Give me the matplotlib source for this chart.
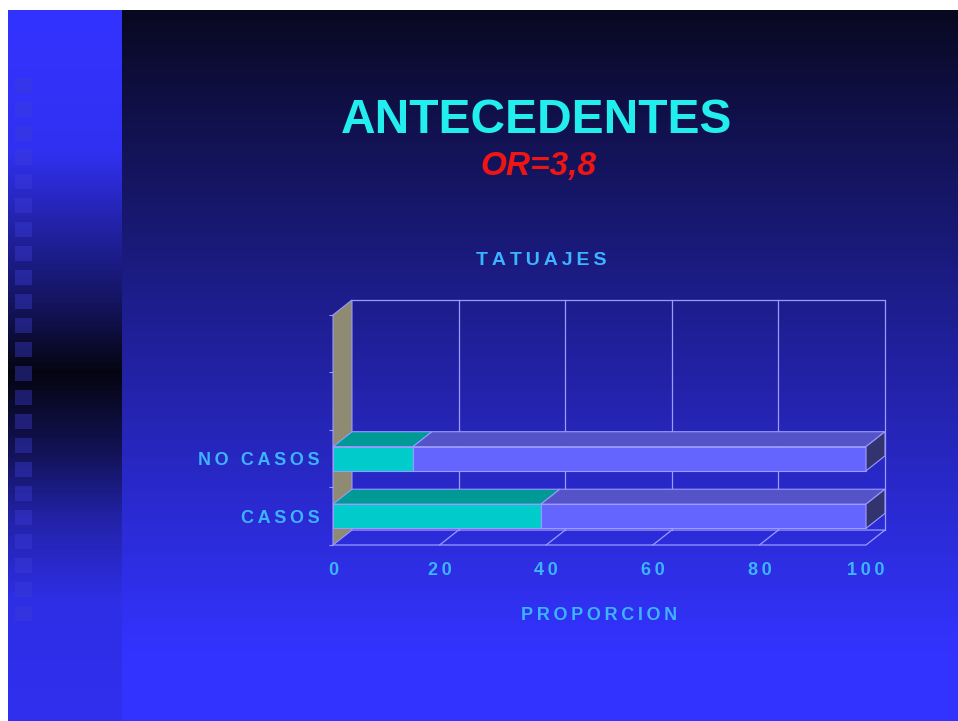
import numpy as np
import matplotlib
matplotlib.use('Agg')
from matplotlib import pyplot as plt
from matplotlib.patches import Polygon

# data
categories = ['CASOS', 'NO CASOS']
tatuados = [39, 15]
no_tatuados = [61, 85]
xticks = [0, 20, 40, 60, 80, 100]
n_slots = 4

plt.rcParams['font.family'] = ['Liberation Sans', 'DejaVu Sans']

W, H = 958, 721
DX, DY = 3.56, 0.26   # depth of the 3d box in data units
BH = 0.42             # bar thickness

def spaced(s):
    return '\u2009'.join(s)

def fx(px):
    return px / W

def fy(py):
    return 1 - py / H

# background slide
img = np.ones((H, W, 3))
yy = np.arange(H)[:, None]
dark = np.array([8, 8, 30]) / 255
blue = np.array([51, 51, 255]) / 255
t = np.clip((yy - 10) / 640.0, 0, 1) ** 0.9
main = dark + (blue - dark) * t[..., None]
img[10:, 122:] = main[10:, :, :].repeat(W - 122, axis=1)

ky = [10, 150, 230, 300, 372, 450, 520, 600, 721]
kf = [1.0, 0.95, 0.62, 0.35, 0.02, 0.3, 0.65, 0.9, 0.93]
f = np.interp(np.arange(H), ky, kf)
low = np.array([4, 4, 12]) / 255
strip = low + f[:, None] * (blue - low)
img[10:, 8:122] = strip[10:, None, :]
sq = np.array([60, 60, 215]) / 255
for k in range(23):
    y0 = int(78 + k * 24)
    img[y0:y0 + 15, 15:32] = strip[y0:y0 + 15, None, :] * 0.6 + sq * 0.4

fig = plt.figure(figsize=(W / 100, H / 100), dpi=100)
bg = fig.add_axes([0, 0, 1, 1])
bg.imshow(img, aspect='auto', interpolation='bilinear')
bg.axis('off')

fig.text(fx(537), fy(133), 'ANTECEDENTES', color='#22eeee', fontsize=34.5,
         fontweight='bold', ha='center', va='baseline')
fig.text(fx(538), fy(175), 'OR=3,8', color='#ee1515', fontsize=24,
         fontweight='bold', style='italic', ha='center', va='baseline')
fig.text(fx(541), fy(265), spaced('TATUAJES'), color='#3cb4ff', fontsize=14,
         fontweight='bold', ha='center', va='baseline')

ax = fig.add_axes([fx(333), fy(545), (885 - 333) / W, (545 - 300) / H])
ax.set_xlim(0, 100 + DX)
ax.set_ylim(0, n_slots + DY)
ax.patch.set_alpha(0)
for s in ax.spines.values():
    s.set_visible(False)

line_c = '#9a9aff'
# left wall
ax.add_patch(Polygon([(0, 0), (DX, DY), (DX, n_slots + DY), (0, n_slots)],
                     closed=True, fc='#8f8a72', ec=line_c, lw=0.8, clip_on=False, zorder=1))
# back wall outline and grid
ax.plot([DX, 100 + DX, 100 + DX], [n_slots + DY, n_slots + DY, DY], color=line_c, lw=0.9,
        clip_on=False, zorder=1)
for v in xticks[1:-1]:
    ax.plot([v + DX, v + DX], [DY, n_slots + DY], color=line_c, lw=0.9, clip_on=False, zorder=1)
# floor
ax.plot([0, 100, 100 + DX, DX], [0, 0, DY, DY], color=line_c, lw=0.9, clip_on=False, zorder=1)
for v in xticks[1:-1]:
    ax.plot([v, v + DX], [0, DY], color=line_c, lw=0.9, clip_on=False, zorder=1)

# bars
seg_colors = [('#00cccc', '#009a96'), ('#6464ff', '#5454c8')]
for i in range(len(categories))[::-1]:
    yc = i + 0.5
    y0, y1 = yc - BH / 2, yc + BH / 2
    left = 0
    for vals, (cf, ct) in zip([tatuados, no_tatuados], seg_colors):
        r = left + vals[i]
        ax.add_patch(Polygon([(left, y1), (r, y1), (r + DX, y1 + DY), (left + DX, y1 + DY)],
                             closed=True, fc=ct, ec=line_c, lw=0.8, clip_on=False, zorder=3))
        ax.add_patch(Polygon([(left, y0), (r, y0), (r, y1), (left, y1)],
                             closed=True, fc=cf, ec=line_c, lw=0.8, clip_on=False, zorder=3))
        left = r
    ax.add_patch(Polygon([(left, y0), (left + DX, y0 + DY), (left + DX, y1 + DY), (left, y1)],
                         closed=True, fc='#333370', ec=line_c, lw=0.8, clip_on=False, zorder=3))

lab_c = '#3cb4ff'
ax.set_xticks(xticks)
ax.set_xticklabels([spaced(str(v)) for v in xticks], color=lab_c, fontsize=13, fontweight='bold')
ax.tick_params(axis='x', length=0, pad=12)
ax.set_yticks([i + 0.5 for i in range(len(categories))])
ax.set_yticklabels([spaced(c) for c in categories], color=lab_c, fontsize=13, fontweight='bold')
ax.tick_params(axis='y', which='major', length=0, pad=9.5)
ax.set_yticks(list(range(n_slots + 1)), minor=True)
ax.tick_params(axis='y', which='minor', length=3, color=line_c, width=0.8)
ax.set_xlabel(spaced('PROPORCION'), color=lab_c, fontsize=13, fontweight='bold')
ax.xaxis.set_label_coords(50 / (100 + DX), -0.253)

fig.savefig('out.png', dpi=100)
